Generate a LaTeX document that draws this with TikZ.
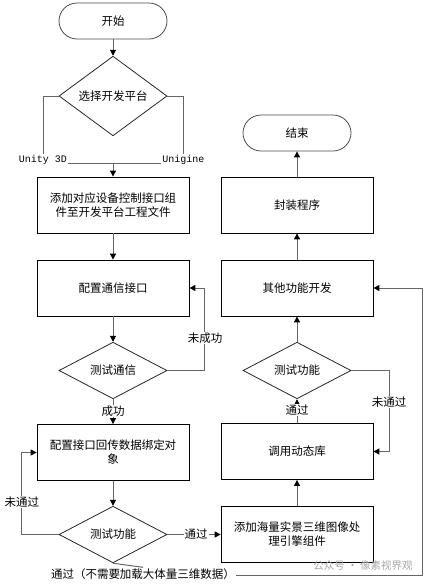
\documentclass[tikz,border=0pt]{standalone}
\usepackage{fontspec}
\setmainfont{Noto Sans CJK SC}
\newfontfamily\monof{Liberation Mono}
\usetikzlibrary{shapes.geometric,arrows.meta}
\begin{document}
\begin{tikzpicture}[x=1pt,y=-1pt,
  font=\fontsize{11.5}{14}\selectfont,
  box/.style={draw=black, line width=0.8pt, minimum width=152pt, minimum height=56pt, inner sep=0pt, align=center},
  term/.style={draw=black!70, line width=0.8pt, rounded corners=18pt, minimum width=108pt, minimum height=36pt, inner sep=0pt},
  dec/.style={draw=black!85, line width=0.8pt, diamond, minimum width=108pt, minimum height=55pt, inner sep=0pt},
  conn/.style={draw=black!60, line width=1pt},
  arr/.style={conn, -{Triangle[length=6pt,width=6pt,color=black]}},
  lab/.style={fill=white, inner sep=1pt},
  mono/.style={font=\monof\fontsize{10}{12}\selectfont, inner sep=1pt}
]
\useasboundingbox (0,0) rectangle (432,584);

\node[term] (start) at (113,21) {开始};
\node[dec] (d1) at (113,96) {选择开发平台};
\node[mono] (u3d) at (43,160) {Unity 3D};
\node[mono] (ugn) at (183.5,160) {Unigine};
\coordinate (j) at (113,163);
\node[box] (b1) at (113,205) {添加对应设备控制接口组\\件至开发平台工程文件};
\node[box] (b2) at (113,288) {配置通信接口};
\node[dec] (d2) at (113,370.5) {测试通信};
\node[box] (b3) at (113,452.5) {配置接口回传数据绑定对\\象};
\node[dec] (d3) at (113,534.5) {测试功能};

\node[term] (end) at (297,133) {结束};
\node[box] (b7) at (297,205) {封装程序};
\node[box] (b6) at (297,288) {其他功能开发};
\node[dec] (d4) at (297,370.5) {测试功能};
\node[box] (b5) at (297,451.5) {调用动态库};
\node[box] (b4) at (297,534.5) {添加海量实景三维图像处\\理引擎组件};

% left column
\draw[arr] (start.south) -- (d1.north);
\draw[conn] (d1.west) -| (u3d.north);
\draw[conn] (d1.east) -| (ugn.north);
\draw[conn] (u3d.east |- j) -- (ugn.west |- j);
\draw[arr] (j) -- (b1.north);
\draw[arr] (b1.south) -- (b2.north);
\draw[arr] (b2.south) -- (d2.north);
\draw[arr] (d2.east) -- (204,370.5) |- (b2.east);
\node[lab] (l1) at (205,338) {未成功};
\draw[arr] (d2.south) -- (b3.north);
\node[lab] (l2) at (113,411) {成功};
\draw[arr] (b3.south) -- (d3.north);
\draw[arr] (d3.west) -- (21,534.5) |- (b3.west);
\node[lab] (l3) at (22,502) {未通过};
\draw[arr] (d3.east) -- (b4.west);
\node[lab] (l4) at (196,534.5) {通过};
\node[inner sep=1pt] (l5) at (143,574) {通过（不需要加载大体量三维数据）};
\draw[conn] (d3.south) -- (l5.north);
\draw[arr] (l5.east |- 0,575) -- (422,575) |- (b6.east);

% right column
\draw[arr] (b4.north) -- (b5.south);
\draw[arr] (b5.north) -- (d4.south);
\node[lab] (l6) at (297,410) {通过};
\draw[arr] (d4.east) -- (389,370.5) |- (b5.east);
\node[lab] (l7) at (389,402) {未通过};
\draw[arr] (d4.north) -- (b6.south);
\draw[arr] (b6.north) -- (b7.south);
\draw[arr] (b7.north) -- (end.south);

\node[text=black!35, font=\fontsize{10.5}{12}\selectfont, inner sep=0pt] (wm) at (363,566) {公众号 · 像素视界观};
\end{tikzpicture}
\end{document}
